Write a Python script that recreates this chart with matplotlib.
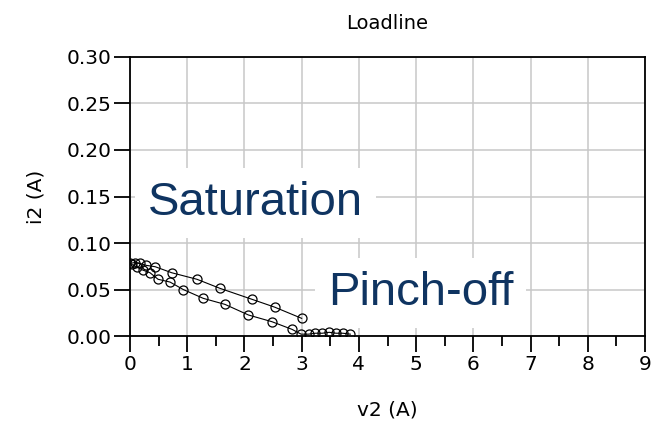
import matplotlib
matplotlib.use("Agg")
import matplotlib.pyplot as plt
from matplotlib.ticker import MultipleLocator

# Forward sweep of the load line (saturation side up to v2 = 3 V)
fwd_v = [0.00, 0.08, 0.18, 0.28, 0.44, 0.73, 1.17, 1.57, 2.13, 2.53, 3.00]
fwd_i = [0.078, 0.079, 0.078, 0.076, 0.0745, 0.068, 0.061, 0.0513, 0.0395, 0.031, 0.019]

# Return sweep (pinch-off cluster back to the origin)
ret_v = [3.85, 3.72, 3.60, 3.48, 3.36, 3.24, 3.12, 2.99, 2.83, 2.48, 2.07, 1.66,
         1.28, 0.93, 0.70, 0.49, 0.35, 0.22, 0.12, 0.03]
ret_i = [0.002, 0.003, 0.003, 0.004, 0.003, 0.003, 0.002, 0.002, 0.0072, 0.0154,
         0.0226, 0.034, 0.0405, 0.050, 0.058, 0.061, 0.068, 0.071, 0.074, 0.077]

x_ticks = [0, 1, 2, 3, 4, 5, 6, 7, 8, 9]
y_ticks = [0.00, 0.05, 0.10, 0.15, 0.20, 0.25, 0.30]

title = "Loadline"
x_label = "v2 (A)"
y_label = "i2 (A)"
region_labels = ["Saturation", "Pinch-off"]
region_pos = [(0.31, 0.130), (3.46, 0.0333)]

fig = plt.figure(figsize=(6.62, 4.24), dpi=100)
ax = fig.add_axes([0.1964, 0.2075, 0.7779, 0.6581])

for v, i in ((fwd_v, fwd_i), (ret_v, ret_i)):
    ax.plot(v, i, color="black", linewidth=0.8, marker="o", markersize=6.5,
            markerfacecolor="none", markeredgecolor="black", markeredgewidth=0.9,
            zorder=3)

ax.set_xlim(0, 9)
ax.set_ylim(0, 0.30)
ax.set_xticks(x_ticks)
ax.set_yticks(y_ticks)
ax.set_yticklabels([f"{t:.2f}" for t in y_ticks])
ax.xaxis.set_minor_locator(MultipleLocator(0.5))

ax.grid(True, which="major", color="#c8c8c8", linewidth=1.1, zorder=0)
ax.set_axisbelow(True)
for s in ax.spines.values():
    s.set_color("black")
    s.set_linewidth(1.3)

ax.tick_params(axis="both", which="major", direction="out", length=11.5,
               width=1.3, color="black", labelsize=14.5, pad=2)
ax.tick_params(axis="x", which="minor", direction="out", length=7,
               width=1.3, color="black")
ax.tick_params(axis="y", which="minor", length=0)

ax.set_title(title, fontsize=14, pad=20)
ax.set_xlabel(x_label, fontsize=14.5, labelpad=19)
ax.set_ylabel(y_label, fontsize=14.5, labelpad=15)

for txt, (x, y) in zip(region_labels, region_pos):
    ax.text(x, y, txt, fontsize=34, family="Liberation Sans", color="#0f3461",
            ha="left", va="baseline", zorder=2,
            bbox=dict(boxstyle="square,pad=0.27", facecolor="white",
                      edgecolor="none"))

fig.savefig("out.png", dpi=100)
